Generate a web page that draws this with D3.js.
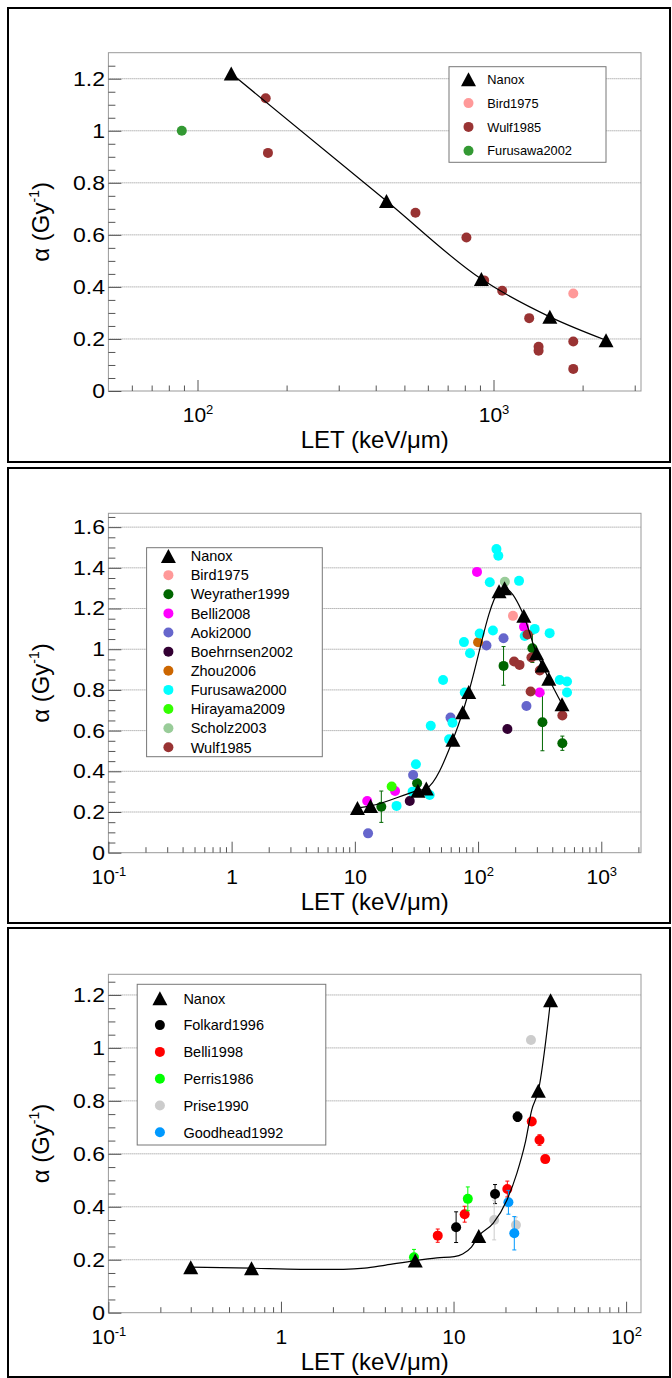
<!DOCTYPE html>
<html>
<head>
<meta charset="utf-8">
<script src="https://cdn.jsdelivr.net/npm/d3@7"></script>
<style>
body { margin: 0; background: #fff; }
svg { display: block; font-family: "Liberation Sans", Arial, sans-serif; }
</style>
</head>
<body>
<script>
// ---- panel 1 : high LET ----
const p1Nanox = [[130, 1.22], [435, 0.73], [910, 0.43], [1550, 0.285], [2400, 0.195]]
const p1Bird1975 = [[1860, 0.375]]
const p1Wulf1985 = [[170, 1.125], [173, 0.915], [545, 0.685], [810, 0.59], [930, 0.425], [1070, 0.385],
  [1320, 0.28], [1420, 0.17], [1420, 0.155], [1860, 0.19], [1860, 0.085]]
const p1Furusawa2002 = [[88.5, 1.0]]
const p1XTicks = [100, 1000]
const p1YTicks = [0, 0.2, 0.4, 0.6, 0.8, 1, 1.2]

// ---- panel 2 : carbon-like ions ----
const p2Nanox = [[10.5, 0.22], [13.4, 0.23], [32.5, 0.305], [38, 0.315], [62.5, 0.555], [75, 0.69], [84, 0.79],
  [148, 1.285], [164, 1.30], [235, 1.165], [298, 0.98], [333, 0.92], [375, 0.855], [480, 0.73]]
const p2Bird1975 = [[192, 1.164]]
const p2Weyrather1999 = [[16.4, 0.226, 0.077], [32, 0.341], [161, 0.918, 0.095], [276, 1.005, 0.07],
  [333, 0.641, 0.14], [483, 0.538, 0.035]]
const p2Belli2008 = [[12.6, 0.254], [21.2, 0.303], [98, 1.38], [236, 1.11], [316, 0.787]]
const p2Aoki2000 = [[12.8, 0.095], [29.7, 0.382], [59.7, 0.664], [117, 1.018], [161, 1.054], [247, 0.721]]
const p2Boehrnsen2002 = [[27.9, 0.254], [173, 0.608]]
const p2Zhou2006 = [[100, 1.034]]
const p2Furusawa2000 = [[21.8, 0.23], [29.4, 0.30], [31.3, 0.435], [40.5, 0.284], [41.3, 0.624], [52, 0.849],
  [58.2, 0.557], [62, 0.639], [76.8, 1.035], [78, 0.787], [86, 0.98], [103, 1.077], [124.5, 1.329],
  [132, 1.092], [141, 1.492], [146, 1.459], [215, 1.336], [239, 1.065], [288, 1.10], [381, 1.079],
  [460, 0.849], [527, 0.841], [527, 0.787]]
const p2Hirayama2009 = [[19.9, 0.325]]
const p2Scholz2003 = [[165, 1.332]]
const p2Wulf1985 = [[196, 0.94], [217, 0.923], [252, 1.072], [271, 0.959], [267, 0.792], [317, 0.895], [483, 0.674]]
const p2XTicks = [0.1, 1, 10, 100, 1000]
const p2YTicks = [0, 0.2, 0.4, 0.6, 0.8, 1, 1.2, 1.4, 1.6]

// ---- panel 3 : low LET ----
const p3Nanox = [[0.3, 0.172], [0.675, 0.168], [6, 0.197], [14, 0.29], [31, 0.838], [36.5, 1.18]]
const p3NanoxCurve = [[0.3, 0.172], [0.675, 0.168], [1.3, 0.164], [2.3, 0.164], [3.05, 0.168], [4.05, 0.18],
  [6, 0.197], [8, 0.207], [10.1, 0.212], [11.3, 0.222], [12.7, 0.248], [14, 0.29], [17, 0.338],
  [20.4, 0.426], [23.3, 0.527], [26, 0.64], [28.4, 0.766], [31, 0.838], [36.5, 1.18]]
const p3Folkard1996 = [[10.35, 0.323, 0.058], [17.4, 0.448, 0.036], [23.5, 0.74, 0.018]]
const p3Belli1998 = [[8.1, 0.291, 0.025], [11.6, 0.372, 0.03], [20.5, 0.467, 0.03], [28.4, 0.722, 0.015],
  [31.5, 0.652, 0.02], [34, 0.58, 0.012]]
const p3Perris1986 = [[5.9, 0.209, 0.03], [12.1, 0.43, 0.045]]
const p3Prise1990 = [[17.2, 0.35, 0.075], [23, 0.331, 0.03], [28.1, 1.03, 0.01]]
const p3Goodhead1992 = [[20.8, 0.417, 0.045], [22.5, 0.30, 0.063]]
const p3XTicks = [0.1, 1, 10, 100]
const p3YTicks = [0, 0.2, 0.4, 0.6, 0.8, 1, 1.2]

const panels = [
  {
    boxY: 8, boxH: 454, left: 108.4, right: 641, top: 52.7, bottom: 391,
    xDomain: [50, 3150], yDomain: [0, 1.3], xTicks: p1XTicks, yTicks: p1YTicks,
    nanox: p1Nanox, curve: p1Nanox,
    series: [
      {name: 'Bird1975', color: '#ff9999', pts: p1Bird1975},
      {name: 'Wulf1985', color: '#993333', pts: p1Wulf1985},
      {name: 'Furusawa2002', color: '#339933', pts: p1Furusawa2002}
    ],
    legend: {x0: 449, x1: 606, y0: 66.7, y1: 162.3, row0: 79.3, step: 23.8, mx: 468.5, tx: 487.3, fs: 12.8}
  },
  {
    boxY: 468, boxH: 455, left: 108.4, right: 641, top: 513.3, bottom: 852.7,
    xDomain: [0.1, 2100], yDomain: [0, 1.668], xTicks: p2XTicks, yTicks: p2YTicks,
    nanox: p2Nanox, curve: p2Nanox,
    series: [
      {name: 'Bird1975', color: '#ff9999', pts: p2Bird1975},
      {name: 'Weyrather1999', color: '#006600', pts: p2Weyrather1999},
      {name: 'Belli2008', color: '#ff00ff', pts: p2Belli2008},
      {name: 'Aoki2000', color: '#6666cc', pts: p2Aoki2000},
      {name: 'Boehrnsen2002', color: '#330033', pts: p2Boehrnsen2002},
      {name: 'Zhou2006', color: '#cc6600', pts: p2Zhou2006},
      {name: 'Furusawa2000', color: '#00ffff', pts: p2Furusawa2000},
      {name: 'Hirayama2009', color: '#33ff00', pts: p2Hirayama2009},
      {name: 'Scholz2003', color: '#99cc99', pts: p2Scholz2003},
      {name: 'Wulf1985', color: '#993333', pts: p2Wulf1985}
    ],
    legend: {x0: 146.6, x1: 322.3, y0: 547.7, y1: 756.7, row0: 556, step: 19.13, mx: 168.4, tx: 190.7, fs: 14.5}
  },
  {
    boxY: 928, boxH: 449, left: 108.4, right: 641, top: 974.3, bottom: 1312.7,
    xDomain: [0.1, 122], yDomain: [0, 1.278], xTicks: p3XTicks, yTicks: p3YTicks,
    nanox: p3Nanox, curve: p3NanoxCurve,
    series: [
      {name: 'Folkard1996', color: '#000000', pts: p3Folkard1996},
      {name: 'Belli1998', color: '#ff0000', pts: p3Belli1998},
      {name: 'Perris1986', color: '#00ff00', pts: p3Perris1986},
      {name: 'Prise1990', color: '#cccccc', pts: p3Prise1990},
      {name: 'Goodhead1992', color: '#0099ff', pts: p3Goodhead1992}
    ],
    legend: {x0: 137.2, x1: 325.8, y0: 984.3, y1: 1145, row0: 998.3, step: 26.8, mx: 159.9, tx: 183.4, fs: 14.5}
  }
]

const tri = 'M0,-7L7.5,7L-7.5,7Z'
const dotR = 5

const svg = d3.select('body').append('svg').attr('width', 672).attr('height', 1378)

function drawPanel (c) {
  const x = d3.scaleLog().domain(c.xDomain).range([c.left, c.right])
  const y = d3.scaleLinear().domain(c.yDomain).range([c.bottom, c.top])
  const g = svg.append('g')

  g.append('rect').attr('x', 8).attr('y', c.boxY).attr('width', 662).attr('height', c.boxH)
    .attr('fill', 'none').attr('stroke', '#000').attr('stroke-width', 2)

  // dotted grid on major y ticks
  g.append('g').selectAll('line').data(c.yTicks.filter(d => d > 0)).join('line')
    .attr('x1', c.left).attr('x2', c.right)
    .attr('y1', d => y(d)).attr('y2', d => y(d))
    .attr('stroke', '#8c8c8c').attr('stroke-dasharray', '1,1')

  g.append('rect').attr('x', c.left).attr('y', c.top)
    .attr('width', c.right - c.left).attr('height', c.bottom - c.top)
    .attr('fill', 'none').attr('stroke', '#999')

  // y axis
  const yMinor = d3.range(0, c.yDomain[1], 0.05).filter(v => Math.abs(v / 0.2 - Math.round(v / 0.2)) > 0.01)
  g.append('g').attr('transform', `translate(${c.left},0)`)
    .call(d3.axisLeft(y).tickValues(yMinor).tickSize(-7).tickFormat(''))
    .call(a => a.select('.domain').remove())
  const ya = g.append('g').attr('transform', `translate(${c.left},0)`)
    .call(d3.axisLeft(y).tickValues(c.yTicks).tickSize(-13).tickPadding(3).tickFormat(d => String(d)))
    .call(a => a.select('.domain').remove())
  ya.attr('font-size', 20).attr('font-family', null)
  // ROOT's label font is drawn wider than Helvetica
  ya.selectAll('.tick text').attr('transform', 'scale(1.15,1)')

  // x axis
  const xMinor = []
  const lo = Math.floor(Math.log10(c.xDomain[0]))
  const hi = Math.ceil(Math.log10(c.xDomain[1]))
  for (let k = lo; k <= hi; k++) {
    for (let m = 2; m <= 9; m++) {
      const v = m * Math.pow(10, k)
      if (v > c.xDomain[0] && v < c.xDomain[1]) xMinor.push(v)
    }
  }
  g.append('g').attr('transform', `translate(0,${c.bottom})`)
    .call(d3.axisBottom(x).tickValues(xMinor).tickSize(-5.5).tickFormat(''))
    .call(a => a.select('.domain').remove())
  const xa = g.append('g').attr('transform', `translate(0,${c.bottom})`)
    .call(d3.axisBottom(x).tickValues(c.xTicks).tickSize(-11).tickPadding(16).tickFormat(''))
    .call(a => a.select('.domain').remove())
  xa.attr('font-size', 21).attr('font-family', null)
  xa.selectAll('.tick text').each(function (d) {
    const t = d3.select(this)
    const e = Math.round(Math.log10(d))
    if (e === 0) t.text('1')
    else if (e === 1) t.text('10')
    else {
      t.text('10')
      t.append('tspan').attr('font-size', 13).attr('dy', -8).text(String(e))
    }
  })
  g.selectAll('.tick line').attr('stroke', '#555')

  // titles
  g.append('text').attr('x', (c.left + c.right) / 2).attr('y', c.bottom + 57)
    .attr('text-anchor', 'middle').attr('font-size', 24).text('LET (keV/\u03bcm)')
  const yt = g.append('text')
    .attr('transform', `translate(49,${(c.top + c.bottom) / 2}) rotate(-90)`)
    .attr('text-anchor', 'middle').attr('font-size', 24)
  yt.append('tspan').text('\u03b1 (Gy')
  yt.append('tspan').attr('font-size', 14).attr('dy', -10).text('-1')
  yt.append('tspan').attr('dy', 10).text(')')

  // data points
  c.series.forEach(s => {
    const sg = g.append('g')
    sg.selectAll('g.err').data(s.pts.filter(p => p[2])).join('g').each(function (p) {
      const eg = d3.select(this)
      eg.append('line').attr('x1', x(p[0])).attr('x2', x(p[0]))
        .attr('y1', y(p[1] - p[2])).attr('y2', y(p[1] + p[2]))
        .attr('stroke', s.color).attr('stroke-width', 1)
      ;[p[1] - p[2], p[1] + p[2]].forEach(v => {
        eg.append('line').attr('x1', x(p[0]) - 2).attr('x2', x(p[0]) + 2)
          .attr('y1', y(v)).attr('y2', y(v)).attr('stroke', s.color)
      })
    })
    sg.selectAll('circle').data(s.pts).join('circle')
      .attr('cx', p => x(p[0])).attr('cy', p => y(p[1])).attr('r', dotR)
      .attr('fill', s.color)
  })

  // Nanox curve + markers
  const line = d3.line().x(p => x(p[0])).y(p => y(p[1])).curve(d3.curveMonotoneX)
  g.append('path').datum(c.curve).attr('d', line)
    .attr('fill', 'none').attr('stroke', '#000').attr('stroke-width', 1.2)
  g.append('g').selectAll('path').data(c.nanox).join('path')
    .attr('d', tri).attr('transform', p => `translate(${x(p[0])},${y(p[1])})`)
    .attr('fill', '#000')

  // legend
  const L = c.legend
  const lg = g.append('g')
  lg.append('rect').attr('x', L.x0).attr('y', L.y0).attr('width', L.x1 - L.x0).attr('height', L.y1 - L.y0)
    .attr('fill', '#fff').attr('stroke', '#777')
  const entries = [{name: 'Nanox', color: '#000', tri: true}].concat(c.series)
  entries.forEach((e, i) => {
    const yy = L.row0 + i * L.step
    if (e.tri) {
      lg.append('path').attr('d', tri).attr('transform', `translate(${L.mx},${yy})`).attr('fill', '#000')
    } else {
      lg.append('circle').attr('cx', L.mx).attr('cy', yy).attr('r', dotR).attr('fill', e.color)
    }
    lg.append('text').attr('x', L.tx).attr('y', yy).attr('dy', '0.36em')
      .attr('font-size', L.fs).text(e.name)
  })
}

panels.forEach(drawPanel)
</script>
</body>
</html>
